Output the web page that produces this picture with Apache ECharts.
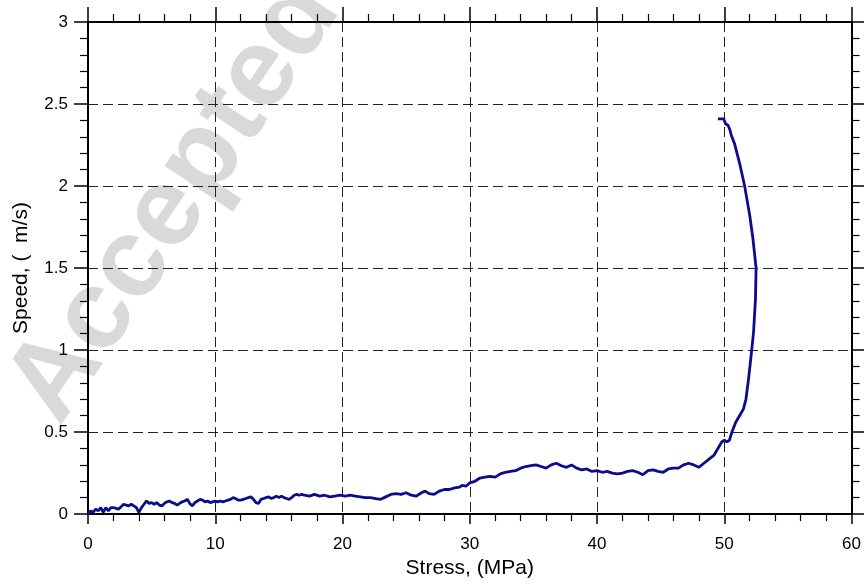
<!DOCTYPE html>
<html>
<head>
<meta charset="utf-8">
<script src="https://cdn.jsdelivr.net/npm/echarts@6/dist/echarts.min.js"></script>
<style>html,body{margin:0;padding:0;background:#fff}#c{width:864px;height:584px}</style>
</head>
<body>
<div id="c"></div>
<script>
// Stress (MPa) values along the measured path
var stress = [
0,0.2,0.4,0.6,0.8,1.0,1.2,1.4,1.6,1.8,2.0,2.2,2.4,2.6,2.8,3.0,3.2,3.4,3.6,3.8,4.0,4.2,4.4,4.6,4.8,5.0,5.2,5.4,5.6,5.8,
6.0,6.2,6.4,6.6,6.8,7.0,7.2,7.4,7.6,7.8,8.0,8.2,8.4,8.6,8.8,9.0,9.2,9.4,9.6,9.8,10.0,10.2,10.4,10.6,10.8,11.0,11.2,11.4,11.6,11.8,
12.0,12.2,12.4,12.6,12.8,13.0,13.2,13.4,13.6,13.8,14.0,14.2,14.4,14.6,14.8,15.0,15.2,15.4,15.6,15.8,16.0,16.2,16.4,16.6,16.8,
17.0,17.4,17.8,18.2,18.6,19.0,19.4,19.8,20.2,20.6,21.0,21.4,21.8,22.2,22.6,23.0,23.4,23.8,24.2,24.6,25.0,25.4,25.8,26.2,26.5,26.8,
27.2,27.6,28.0,28.4,28.8,29.2,29.4,29.7,30.0,30.4,30.8,31.2,31.6,32.0,32.4,32.8,33.2,33.6,34.0,34.4,34.8,35.2,35.6,36.0,36.4,36.8,
37.2,37.6,38.0,38.4,38.8,39.2,39.6,40.0,40.4,40.8,41.2,41.6,42.0,42.4,42.8,43.2,43.6,44.0,44.4,44.8,45.2,45.6,46.0,46.4,46.8,47.2,
47.6,48.0,48.4,48.8,49.2,49.5,49.8,50.0,50.2,50.4,50.6,50.9,51.2,51.5,51.7,51.9,52.1,52.3,52.45,52.5,52.25,52.0,51.6,51.2,50.8,
50.55,50.45,50.35,50.3,50.1,50.0,49.95,49.5
];
// Speed (m/s) values along the measured path
var speed = [
0.0,0.02,0.01,0.03,0.02,0.04,0.01,0.04,0.02,0.04,0.04,0.035,0.03,0.045,0.06,0.055,0.05,0.06,0.05,0.04,0.01,0.04,0.06,0.08,0.065,0.07,0.06,0.07,0.055,0.05,
0.065,0.075,0.08,0.07,0.065,0.055,0.065,0.075,0.08,0.09,0.065,0.05,0.07,0.08,0.09,0.085,0.075,0.08,0.07,0.075,0.08,0.075,0.08,0.075,0.08,0.085,0.09,0.1,0.095,0.085,
0.085,0.09,0.095,0.1,0.105,0.09,0.07,0.065,0.09,0.095,0.1,0.105,0.095,0.1,0.11,0.1,0.11,0.1,0.095,0.09,0.1,0.115,0.12,0.115,0.12,
0.115,0.11,0.12,0.11,0.115,0.105,0.11,0.115,0.11,0.115,0.11,0.105,0.1,0.1,0.095,0.09,0.105,0.12,0.125,0.12,0.13,0.115,0.11,0.13,0.14,0.125,
0.12,0.14,0.15,0.15,0.16,0.165,0.175,0.17,0.19,0.2,0.22,0.225,0.23,0.225,0.245,0.255,0.26,0.265,0.28,0.29,0.295,0.3,0.29,0.28,0.3,0.31,
0.295,0.285,0.3,0.28,0.27,0.275,0.26,0.265,0.255,0.26,0.25,0.245,0.25,0.26,0.265,0.255,0.24,0.265,0.27,0.26,0.255,0.275,0.28,0.28,0.3,0.31,
0.3,0.285,0.31,0.335,0.36,0.4,0.44,0.45,0.44,0.45,0.5,0.56,0.6,0.64,0.7,0.82,0.96,1.11,1.31,1.5,1.68,1.82,2.0,2.14,2.26,
2.31,2.34,2.35,2.37,2.38,2.39,2.41,2.41
];
var xTicks = [0,10,20,30,40,50,60];
var yTicks = [0,0.5,1,1.5,2,2.5,3];

var pts = stress.map(function(x,i){return [x, speed[i]];});
var FONT = 'Liberation Sans';
var chart = echarts.init(document.getElementById('c'), null, {renderer:'canvas'});

function axisCommon(extra){
  var base = {
    axisLine:{show:true, onZero:false, lineStyle:{color:'#000', width:2}},
    axisTick:{show:true, inside:false, lineStyle:{color:'#000', width:1.5}},
    minorTick:{show:true, splitNumber:5, lineStyle:{color:'#000', width:1.2}},
    splitLine:{show:false},
    axisLabel:{show:false}
  };
  for (var k in extra) base[k] = extra[k];
  return base;
}

chart.setOption({
  animation:false,
  backgroundColor:'#fff',
  graphic:[{
    type:'text', z:-10, zlevel:0, silent:true,
    x:34, y:410, rotation:56*Math.PI/180,
    style:{text:'Accepted Manuscript', fill:'#d9d9d9', font:'bold 112px "Liberation Sans"', align:'left', verticalAlign:'middle', textAlign:'left', textVerticalAlign:'middle'}
  }],
  grid:{left:88, right:12, top:22, bottom:67, containLabel:false},
  xAxis:[
    axisCommon({type:'value', position:'bottom', min:xTicks[0], max:xTicks[xTicks.length-1], interval:10,
      axisTick:{show:true, inside:false, length:10, lineStyle:{color:'#000', width:1.5}},
      minorTick:{show:true, splitNumber:5, length:7, lineStyle:{color:'#000', width:1.2}},
      axisLabel:{show:true, color:'#000', fontFamily:FONT, fontSize:17, margin:22},
      splitLine:{show:true, lineStyle:{color:'#222', width:1, type:[10,5]}},
      name:'Stress, (MPa)', nameLocation:'middle', nameGap:40,
      nameTextStyle:{color:'#000', fontFamily:FONT, fontSize:21}
    }),
    axisCommon({type:'value', position:'top', min:0, max:60, interval:10,
      axisTick:{show:true, inside:false, length:15, lineStyle:{color:'#000', width:1.5}},
      minorTick:{show:true, splitNumber:5, length:8, lineStyle:{color:'#000', width:1.2}}
    })
  ],
  yAxis:[
    axisCommon({type:'value', position:'left', min:yTicks[0], max:yTicks[yTicks.length-1], interval:0.5,
      axisTick:{show:true, inside:false, length:14, lineStyle:{color:'#000', width:1.5}},
      minorTick:{show:true, splitNumber:5, length:8, lineStyle:{color:'#000', width:1.2}},
      axisLabel:{show:true, color:'#000', fontFamily:FONT, fontSize:17, margin:20},
      splitLine:{show:true, lineStyle:{color:'#222', width:1, type:[10,5]}},
      name:'Speed, (  m/s)', nameLocation:'middle', nameGap:56,
      nameTextStyle:{color:'#000', fontFamily:FONT, fontSize:21}
    }),
    axisCommon({type:'value', position:'right', min:0, max:3, interval:0.5,
      axisTick:{show:true, inside:false, length:15, lineStyle:{color:'#000', width:1.5}},
      minorTick:{show:true, splitNumber:5, length:8, lineStyle:{color:'#000', width:1.2}}
    })
  ],
  series:[{
    type:'line', xAxisIndex:0, yAxisIndex:0, data:pts, showSymbol:false, symbol:'none',
    lineStyle:{color:'#0c0c8a', width:2.8}, clip:true, z:5
  }]
});
</script>
</body>
</html>
